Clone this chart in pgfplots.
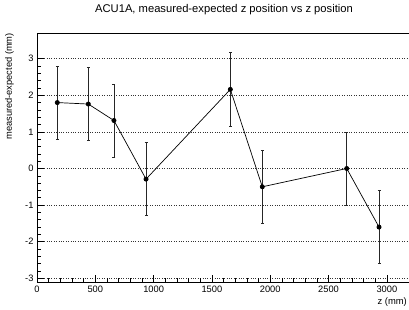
\documentclass[border=0pt]{standalone}
\usepackage{fontspec}
\setmainfont{Liberation Sans}
\usepackage{pgfplots}
\pgfplotsset{compat=1.18}
\begin{document}
\begin{tikzpicture}[x=1pt,y=1pt]
\begin{axis}[
  at={(37pt,27pt)}, anchor=south west,
  scale only axis, width=372pt, height=249pt,
  xmin=0, xmax=3190, ymin=-3.1, ymax=3.7,
  axis x line*=box, axis y line*=left,
  xtick={0,500,...,3000}, ytick={-3,...,3},
  minor x tick num=4, minor y tick num=4,
  xtick pos=bottom, ytick pos=left,
  tick align=inside,
  major tick length=7pt, minor tick length=4pt,
  every tick/.style={black, line width=0.6pt},
  ymajorgrids, major grid style={dotted, black!80, line width=0.6pt},
  axis line style={black, line width=0.8pt},
  ticklabel style={font=\fontsize{9.3}{10}\selectfont},
  /pgf/number format/assume math mode=true,
  /pgf/number format/1000 sep={},
  xticklabel style={yshift=0pt},
  yticklabel style={xshift=0pt},
  clip=false,
]
\addplot[black, line width=0.7pt, mark=*, mark size=2.1pt,
  error bars/.cd, y dir=both, y explicit,
  error bar style={line width=0.7pt, black!85},
  error mark options={rotate=90, mark size=1.5pt, line width=0.6pt}]
coordinates {
(174,1.8) +- (0,1)
(440,1.76) +- (0,1)
(660,1.31) +- (0,1)
(935,-0.29) +- (0,1)
(1658,2.16) +- (0,1)
(1932,-0.5) +- (0,1)
(2656,0) +- (0,1)
(2933,-1.6) +- (0,1)
};
\end{axis}
\node[font=\fontsize{11.2}{13}\selectfont] at (224,299) {ACU1A, measured-expected z position vs z position};
\node[font=\fontsize{9.3}{10}\selectfont, rotate=90, anchor=north east, inner sep=0pt] at (5,276) {measured-expected (mm)};
\node[font=\fontsize{9.4}{10}\selectfont, anchor=east, inner sep=0pt] at (407,7) {z (mm)};
\pgfresetboundingbox
\useasboundingbox (0,0) rectangle (409,309);
\end{tikzpicture}
\end{document}
